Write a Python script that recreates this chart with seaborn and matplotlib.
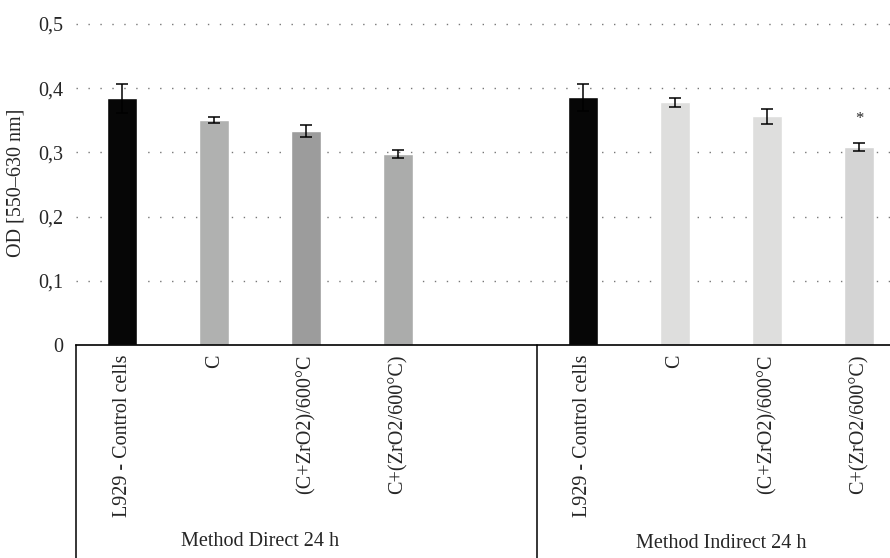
import matplotlib
matplotlib.use("Agg")
import matplotlib.pyplot as plt
import matplotlib.transforms as mtransforms
import seaborn as sns
import pandas as pd

# ---- data ----
slot_order = ["D_L929", "D_C", "D_CZ", "D_CZ2", "gap", "I_L929", "I_C", "I_CZ", "I_CZ2"]
bar_keys = ["D_L929", "D_C", "D_CZ", "D_CZ2", "I_L929", "I_C", "I_CZ", "I_CZ2"]
od_values = [0.384, 0.3505, 0.333, 0.2975, 0.386, 0.378, 0.3565, 0.3085]
od_errors = [0.022, 0.0045, 0.009, 0.0058, 0.021, 0.0075, 0.0118, 0.006]
bar_colors = ["#060606", "#b0b1b0", "#9c9c9c", "#abacab", "#060606", "#dededd", "#dededd", "#d4d4d4"]
tick_labels = ["L929 - Control cells", "C", "(C+ZrO2)/600\u00b0C", "C+(ZrO2/600\u00b0C)", "",
               "L929 - Control cells", "C", "(C+ZrO2)/600\u00b0C", "C+(ZrO2/600\u00b0C)"]
group_names = ["Method Direct 24 h", "Method Indirect 24 h"]
group_members = [["D_L929", "D_C", "D_CZ", "D_CZ2"], ["I_L929", "I_C", "I_CZ", "I_CZ2"]]
star_key = "I_CZ2"
star_y = 0.352
y_ticks = [0, 0.1, 0.2, 0.3, 0.4, 0.5]
y_tick_labels = ["0", "0,1", "0,2", "0,3", "0,4", "0,5"]

df = pd.DataFrame({"key": bar_keys, "od": od_values})

sns.set_style("white")
plt.rcParams["font.family"] = ["Liberation Serif", "DejaVu Serif"]
FS = 14.5

fig = plt.figure(figsize=(8.9, 5.58), dpi=100)
ax = fig.add_axes([76 / 890, 213 / 558, (890 - 76) / 890, 324.2 / 558])

sns.barplot(data=df, x="key", y="od", hue="key", order=slot_order, hue_order=bar_keys,
            palette=dict(zip(bar_keys, bar_colors)), width=0.326, legend=False,
            errorbar=None, saturation=1, ax=ax, zorder=2)

pos = [slot_order.index(k) for k in bar_keys]
ax.errorbar(pos, od_values, yerr=od_errors, fmt="none", ecolor="black",
            elinewidth=1.1, capsize=4.5, capthick=1.1, zorder=3)

ax.set_xlim(-0.5, 8.337)
ax.set_ylim(0, 0.505)
ax.set_yticks(y_ticks)
ax.set_yticklabels(y_tick_labels, fontsize=FS)
ax.set_xticks(range(len(slot_order)))
ax.set_xticklabels(tick_labels, rotation=90, va="top", ha="center", fontsize=FS)
ax.tick_params(axis="y", length=0, pad=9)
ax.tick_params(axis="x", length=0, pad=7)
ax.set_xlabel("")
ax.set_ylabel("OD [550\u2013630 nm]", fontsize=FS, labelpad=9)

for t in [0.1, 0.2, 0.3, 0.4, 0.5]:
    ax.axhline(t, color="#777777", lw=1.0, linestyle=(0, (1, 7.6)), zorder=1)

for s in ["top", "right", "left"]:
    ax.spines[s].set_visible(False)
ax.spines["bottom"].set_color("black")
ax.spines["bottom"].set_linewidth(1.2)

blend = mtransforms.blended_transform_factory(ax.transData, ax.transAxes)
for xline in [-0.5, 4.5]:
    ax.plot([xline, xline], [0, -0.7], transform=blend, color="black", lw=1.1, clip_on=False)

for name, members, yoff in zip(group_names, group_members, [-0.6046, -0.612]):
    xs = [slot_order.index(m) for m in members]
    ax.text(sum(xs) / len(xs), yoff, name, transform=blend, ha="center", va="center", fontsize=FS)

ax.text(slot_order.index(star_key), star_y, "*", ha="center", va="center", fontsize=12, zorder=4)

fig.savefig("out.png", dpi=100)
